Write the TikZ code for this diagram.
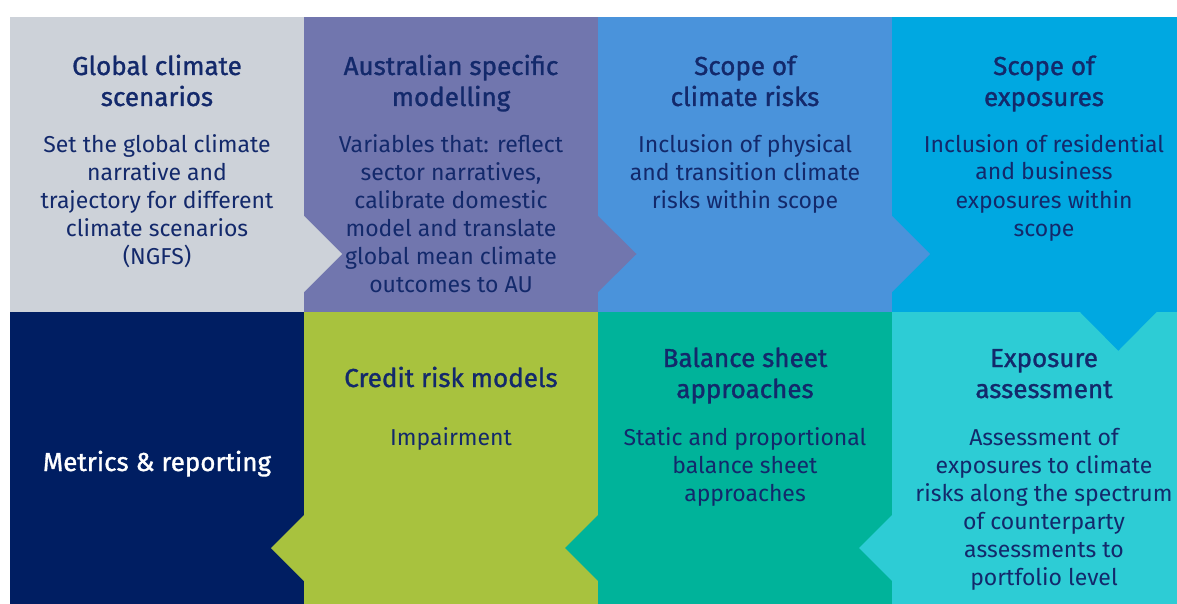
\documentclass[tikz,border=0pt]{standalone}
\usepackage{fontspec}
\setmainfont{Fira Sans}
\newfontfamily\headfont{Fira Sans}[FakeBold=1.2]
\definecolor{cgray}{HTML}{CDD2D9}
\definecolor{cpurple}{HTML}{7176AE}
\definecolor{cblue}{HTML}{4A93DB}
\definecolor{ccyan}{HTML}{00A8E1}
\definecolor{cnavy}{HTML}{001E62}
\definecolor{clime}{HTML}{A8C23E}
\definecolor{cteal}{HTML}{00B39A}
\definecolor{clteal}{HTML}{2DCCD5}
\definecolor{txt}{HTML}{13296B}
\tikzset{
  head/.style={font=\headfont\fontsize{26}{31}\selectfont, text=txt, align=center, anchor=base, inner sep=0pt},
  body/.style={font=\fontsize{23}{28}\selectfont, text=txt, align=center, anchor=base, inner sep=0pt}
}
\begin{document}
\begin{tikzpicture}[x=1pt,y=-1pt]
\useasboundingbox (0,0) rectangle (1177,604);
\fill[white] (0,0) rectangle (1177,604);
% top row cells
\fill[cgray]   (9.5,17.5) rectangle (303.5,312);
\fill[cpurple] (303.5,17.5) rectangle (597.5,312);
\fill[cblue]   (597.5,17.5) rectangle (891.5,312);
\fill[ccyan]   (891.5,17.5) rectangle (1177,312);
% bottom row cells
\fill[cnavy]   (9.5,312) rectangle (303.5,604);
\fill[clime]   (303.5,312) rectangle (597.5,604);
\fill[cteal]   (597.5,312) rectangle (891.5,604);
\fill[clteal]  (891.5,312) rectangle (1177,604);
% top chevrons (pointing right)
\fill[cgray]   (303,215) -- (342,254) -- (303,293) -- cycle;
\fill[cpurple] (597,215) -- (636.5,254) -- (597,293) -- cycle;
\fill[cblue]   (891,215) -- (930,254) -- (891,293) -- cycle;
% down chevron
\fill[ccyan]   (1079.5,311.5) -- (1118.3,350.7) -- (1157,311.5) -- cycle;
% bottom chevrons (pointing left)
\fill[clime]   (304,515) -- (271,548) -- (304,581) -- cycle;
\fill[cteal]   (598,515) -- (565,548) -- (598,581) -- cycle;
\fill[clteal]  (892,515) -- (859,548) -- (892,581) -- cycle;
% top texts (anchor = baseline of last line)
\node[head] (h1) at (157,106) {Global climate\\scenarios};
\node[body] (b1) at (157,264) {Set the global climate\\narrative and\\trajectory for different\\climate scenarios\\(NGFS)};
\node[head] (h2) at (451,106) {Australian specific\\modelling};
\node[body] (b2) at (451,292) {Variables that: reflect\\sector narratives,\\calibrate domestic\\model and translate\\global mean climate\\outcomes to AU};
\node[head] (h3) at (745,106) {Scope of\\climate risks};
\node[body] (b3) at (745,208) {Inclusion of physical\\and transition climate\\risks within scope};
\node[head] (h4) at (1044,106) {Scope of\\exposures};
\node[body] (b4) at (1044,236) {Inclusion of residential\\and business\\exposures within\\scope};
% bottom texts
\node[head, text=white] (h5) at (157,471) {Metrics \& reporting};
\node[head] (h6) at (451,387) {Credit risk models};
\node[body] (b6) at (451,445) {Impairment};
\node[head] (h7) at (745,398) {Balance sheet\\approaches};
\node[body] (b7) at (745,501) {Static and proportional\\balance sheet\\approaches};
\node[head] (h8) at (1044,398) {Exposure\\assessment};
\node[body] (b8) at (1044,585) {Assessment of\\exposures to climate\\risks along the spectrum\\of counterparty\\assessments to\\portfolio level};
\end{tikzpicture}
\end{document}
